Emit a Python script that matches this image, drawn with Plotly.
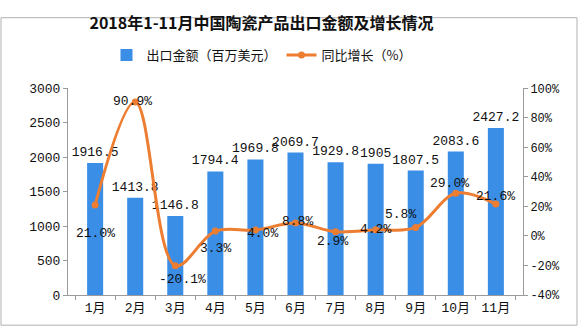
import plotly.graph_objects as go

months = ["1月", "2月", "3月", "4月", "5月", "6月", "7月", "8月", "9月", "10月", "11月"]
export_value = [1916.5, 1413.8, 1146.8, 1794.4, 1969.8, 2069.7, 1929.8, 1905, 1807.5, 2083.6, 2427.2]
growth_pct = [21.0, 90.9, -20.1, 3.3, 4.0, 8.8, 2.9, 4.2, 5.8, 29.0, 21.6]
left_ticks = [0, 500, 1000, 1500, 2000, 2500, 3000]
right_ticks = [-40, -20, 0, 20, 40, 60, 80, 100]

# label offsets (px) for the growth labels, style only
label_shift = [(0, -28), (-3, 0), (7, -14), (0, -17), (7, -3), (2, 2),
               (-3, -10), (0, 0), (-15, 13), (-6, 10), (0, 8)]

W, H = 579, 329
ML, MR, MT, MB = 68, 56, 76, 34
MONO = "Liberation Mono, Noto Sans CJK SC, monospace"
CJK = "Noto Sans CJK SC, sans-serif"
BLUE = "#3a8ee6"
ORANGE = "#ed7d31"
AXIS = "#9a9a9a"

fig = go.Figure()
fig.add_trace(go.Bar(
    x=months, y=export_value, name="出口金额（百万美元）",
    marker=dict(color=BLUE, line=dict(width=0)),
    text=[f"{v:g}" for v in export_value], textposition="outside",
    textfont=dict(family=MONO, size=13, color="#111"),
    constraintext="none", cliponaxis=False, yaxis="y",
))
fig.add_trace(go.Scatter(
    x=months, y=growth_pct, name="同比增长（%）", yaxis="y2",
    mode="lines+markers",
    line=dict(color=ORANGE, width=3, shape="spline", smoothing=1.0),
    marker=dict(color=ORANGE, size=7),
    cliponaxis=False,
))

annotations = []
for m, g, (dx, dy) in zip(months, growth_pct, label_shift):
    annotations.append(dict(
        x=m, y=g, xref="x", yref="y2", text=f"{g:.1f}%", showarrow=False,
        xshift=dx, yshift=dy, font=dict(family=MONO, size=13, color="#111"),
    ))

pw, ph = W - ML - MR, H - MT - MB
x0, x1 = (1 - ML) / pw, (W - 2 - ML) / pw
y0, y1 = -(MB - 2) / ph, (H - 1 - MB) / ph

fig.update_layout(
    width=W, height=H,
    margin=dict(l=ML, r=MR, t=MT, b=MB),
    paper_bgcolor="white", plot_bgcolor="white",
    bargap=0.6,
    font=dict(family=CJK, size=13, color="#111"),
    title=dict(text="<b>2018年1-11月中国陶瓷产品出口金额及增长情况</b>",
               x=261.5 / W, xref="container", xanchor="center",
               y=1 - 23 / H, yref="container", yanchor="middle",
               font=dict(family=CJK, size=16, color="#111")),
    legend=dict(orientation="h", xref="container", x=261.5 / W, xanchor="center",
                yref="container", y=1 - 55 / H, yanchor="middle",
                font=dict(family=CJK, size=13, color="#111"),
                itemwidth=30, tracegroupgap=0, bgcolor="rgba(0,0,0,0)"),
    xaxis=dict(type="category", showline=True, linecolor=AXIS, linewidth=1,
               ticks="outside", ticklen=4, tickcolor=AXIS, tickson="boundaries",
               tickfont=dict(family=MONO, size=13, color="#111"), showgrid=False),
    yaxis=dict(range=[0, 3000], tickvals=left_ticks, showline=True, linecolor=AXIS,
               ticks="outside", ticklen=4, tickcolor=AXIS, showgrid=False, zeroline=False,
               tickfont=dict(family=MONO, size=13, color="#111")),
    yaxis2=dict(range=[-40, 100], tickvals=right_ticks,
                ticktext=[f"{t}%" for t in right_ticks], overlaying="y",
                side="right", showline=True, linecolor=AXIS, ticks="outside", ticklen=4,
                tickcolor=AXIS, showgrid=False, zeroline=False,
                tickfont=dict(family=MONO, size=12, color="#111")),
    annotations=annotations,
    shapes=[dict(type="rect", xref="paper", yref="paper", x0=x0, x1=x1, y0=y0, y1=y1,
                 line=dict(color="#b0b0b0", width=1), fillcolor="rgba(0,0,0,0)", layer="below")],
)

fig.write_html("out.html")
